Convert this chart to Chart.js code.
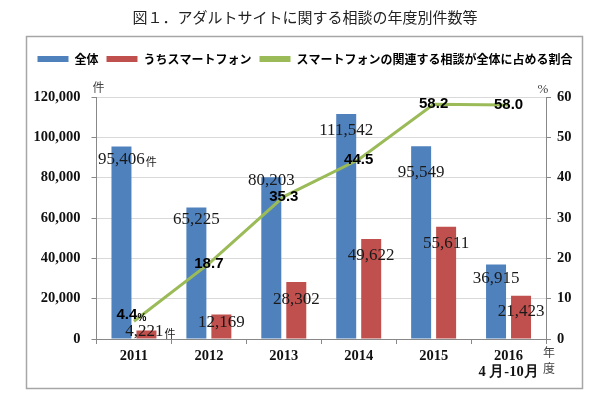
<!DOCTYPE html>
<html>
<head>
<meta charset="utf-8">
<script src="https://cdn.jsdelivr.net/npm/chart.js@4/dist/chart.umd.min.js"></script>
<style>
  html, body { margin: 0; padding: 0; background: #fff; }
  #wrap { width: 600px; height: 397px; }
</style>
</head>
<body>
<div id="wrap"><canvas id="adult-chart"></canvas></div>
<script>
// DATA
const years = [["2011"], ["2012"], ["2013"], ["2014"], ["2015"], ["2016", "4 月-10月"]];
const totalCases = [95406, 65225, 80203, 111542, 95549, 36915];
const smartphoneCases = [4221, 12169, 28302, 49622, 55611, 21423];
const smartphoneShare = [4.4, 18.7, 35.3, 44.5, 58.2, 58.0];
const countTicks = [0, 20000, 40000, 60000, 80000, 100000, 120000];
const shareTicks = [0, 10, 20, 30, 40, 50, 60];

// label nudges (px below bar top) - just layout
const totalNudge = [13, 12.5, 3, 16, 26.5, 13.5];
const phoneNudge = [1.5, 8.5, 18, 17, 17, 16];

const BLUE = '#4F81BD';
const RED = '#C0504D';
const GREEN = '#9BBB59';
const SERIF = '"Liberation Serif", "DejaVu Serif", serif';
const SANS = '"Liberation Sans", Arial, sans-serif';
const JP = '"Noto Sans CJK JP", sans-serif';

const fmt = v => v.toLocaleString('en-US');

const extras = {
  id: 'extras',
  beforeDraw(chart) {
    const c = chart.ctx;
    c.save();
    c.fillStyle = '#fff';
    c.fillRect(0, 0, chart.width, chart.height);
    c.strokeStyle = '#A6A6A6';
    c.lineWidth = 1.5;
    c.strokeRect(26.5, 36.5, 556, 352);
    c.restore();
  },
  afterDatasetsDraw(chart) {
    const c = chart.ctx;
    c.save();
    c.textAlign = 'center';
    c.textBaseline = 'middle';
    c.fillStyle = '#1a1a1a';

    // bar labels
    const m0 = chart.getDatasetMeta(0);
    const m1 = chart.getDatasetMeta(1);
    m0.data.forEach((bar, i) => {
      const y = bar.y + totalNudge[i];
      c.font = '17px ' + SERIF;
      const txt = fmt(totalCases[i]);
      c.fillText(txt, bar.x, y);
      if (i === 0) {
        const w = c.measureText(txt).width;
        c.font = '11px ' + JP;
        c.textAlign = 'left';
        c.fillText('件', bar.x + w / 2 + 1, y + 2);
        c.textAlign = 'center';
      }
    });
    m1.data.forEach((bar, i) => {
      const y = bar.y + phoneNudge[i];
      c.font = '17px ' + SERIF;
      const txt = fmt(smartphoneCases[i]);
      const x = i === 0 ? bar.x - 2 : bar.x;
      c.fillText(txt, x, y);
      if (i === 0) {
        const w = c.measureText(txt).width;
        c.font = '11px ' + JP;
        c.textAlign = 'left';
        c.fillText('件', x + w / 2 + 1, y + 2);
        c.textAlign = 'center';
      }
    });

    // line labels
    const m2 = chart.getDatasetMeta(2);
    c.fillStyle = '#000';
    m2.data.forEach((pt, i) => {
      c.font = 'bold 15px ' + SANS;
      const txt = smartphoneShare[i].toFixed(1);
      if (i === 0) {
        const x = pt.x - 7, y = pt.y - 6;
        c.fillText(txt, x, y);
        const w = c.measureText(txt).width;
        c.font = 'bold 10px ' + SANS;
        c.textAlign = 'left';
        c.fillText('%', x + w / 2, y + 3);
        c.textAlign = 'center';
      } else {
        c.fillText(txt, pt.x, pt.y);
      }
    });

    // axis units
    const a = chart.chartArea;
    c.fillStyle = '#444';
    c.font = '12px ' + JP;
    c.fillText('件', a.left + 2, a.top - 10);
    c.font = '13px ' + SERIF;
    c.fillText('%', a.right - 3, a.top - 7);
    c.font = '12px ' + JP;
    c.fillText('年', a.right + 3, a.bottom + 13);
    c.fillText('度', a.right + 3, a.bottom + 29);
    c.restore();
  }
};

const ctx = document.getElementById('adult-chart').getContext('2d');

const chart = new Chart(ctx, {
  type: 'bar',
  data: {
    labels: years,
    datasets: [{
        label: '全体',
        backgroundColor: BLUE,
        data: totalCases,
        yAxisID: 'y',
        order: 2,
      },
      {
        label: 'うちスマートフォン',
        backgroundColor: RED,
        data: smartphoneCases,
        yAxisID: 'y',
        order: 2,
      },
      {
        type: 'line',
        label: 'スマートフォンの関連する相談が全体に占める割合',
        borderColor: GREEN,
        backgroundColor: GREEN,
        borderWidth: 3,
        pointRadius: 0,
        tension: 0,
        data: smartphoneShare,
        yAxisID: 'y1',
        order: 1,
      }
    ]
  },
  options: {
    responsive: true,
    maintainAspectRatio: false,
    animation: false,
    devicePixelRatio: 1,
    categoryPercentage: 0.667,
    barPercentage: 0.8,
    layout: { padding: { left: 10, right: 0, top: 0, bottom: 0 } },
    plugins: {
      title: {
        display: true,
        text: '図１．アダルトサイトに関する相談の年度別件数等',
        color: '#222',
        font: { family: JP, size: 15, weight: 'normal', lineHeight: 1.2 },
        padding: { top: 8, bottom: 19 }
      },
      subtitle: {
        display: true,
        text: ' ',
        weight: 500,
        font: { size: 1, lineHeight: 1 },
        padding: { top: 10.5, bottom: 10.5 }
      },
      legend: {
        display: true,
        labels: {
          boxWidth: 31,
          boxHeight: 6,
          padding: 8,
          color: '#000',
          font: { family: JP, size: 12, weight: 'bold' },
          generateLabels(ch) {
            return ch.data.datasets.map((ds, i) => ({
              text: ds.label,
              fillStyle: ds.borderColor || ds.backgroundColor,
              strokeStyle: ds.borderColor || ds.backgroundColor,
              lineWidth: 0,
              datasetIndex: i,
              hidden: false
            }));
          }
        }
      },
      tooltip: { enabled: false }
    },
    scales: {
      x: {
        grid: { offset: true, drawOnChartArea: false, tickLength: 5, color: '#888' },
        border: { color: '#888' },
        ticks: { color: '#111', padding: 4, font: { family: SERIF, size: 14.5, weight: 'bold', lineHeight: 1.1 } },
        afterFit(s) { s.height = 58; }
      },
      y: {
        position: 'left',
        min: 0,
        max: 120000,
        afterBuildTicks(s) { s.ticks = countTicks.map(v => ({ value: v })); },
        grid: { color: '#D9D9D9', tickLength: 5, tickColor: '#888' },
        border: { color: '#888' },
        ticks: { color: '#111', padding: 11, font: { family: SERIF, size: 14.5, weight: 'bold' }, callback: v => fmt(v) },
        afterFit(s) { s.width = 86.5; }
      },
      y1: {
        position: 'right',
        min: 0,
        max: 60,
        afterBuildTicks(s) { s.ticks = shareTicks.map(v => ({ value: v })); },
        grid: { drawOnChartArea: false, tickLength: 5, color: '#888' },
        border: { color: '#888' },
        ticks: { color: '#111', padding: 6, font: { family: SERIF, size: 14.5, weight: 'bold' } },
        afterFit(s) { s.width = 54; }
      }
    }
  },
  plugins: [extras]
});
</script>
</body>
</html>
